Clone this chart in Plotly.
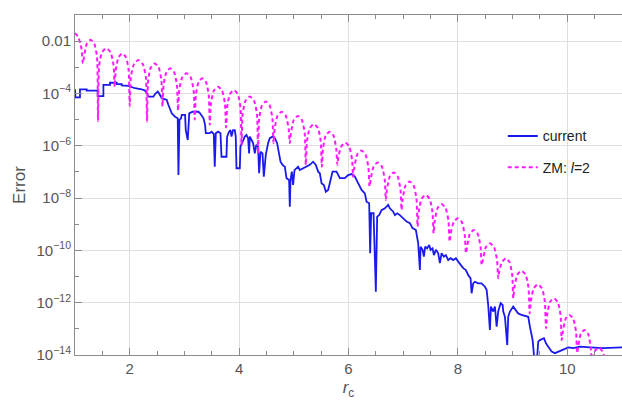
import plotly.graph_objects as go

# ---- data (x = r_c, value = log10(Error)) ----
current_pts = [
    (1.000, -3.84), (1.009, -4.15), (1.091, -4.15), (1.091, -3.84), (1.214, -3.84), (1.214, -3.89),
    (1.415, -3.89), (1.415, -4.10), (1.519, -4.10), (1.519, -3.67), (1.640, -3.67), (1.640, -3.59),
    (1.763, -3.59), (1.763, -3.64), (1.854, -3.64), (1.854, -3.69), (1.977, -3.71), (2.097, -3.80),
    (2.220, -3.84), (2.280, -3.89), (2.311, -3.99), (2.343, -4.12), (2.434, -4.12), (2.463, -4.02),
    (2.513, -3.93), (2.536, -3.99), (2.586, -4.18), (2.677, -4.25), (2.708, -4.44), (2.769, -4.76),
    (2.829, -4.89), (2.878, -4.95), (2.891, -7.12), (2.910, -5.01), (2.939, -4.95), (2.952, -4.82),
    (3.012, -4.82), (3.025, -5.40), (3.061, -5.78), (3.089, -4.76), (3.147, -4.70), (3.257, -4.70),
    (3.286, -4.76), (3.349, -4.95), (3.378, -5.20), (3.391, -5.52), (3.464, -5.52), (3.495, -5.46),
    (3.537, -5.55), (3.555, -6.80), (3.574, -5.52), (3.616, -5.46), (3.660, -5.52), (3.678, -6.42),
    (3.769, -6.42), (3.780, -5.65), (3.817, -5.46), (3.842, -5.40), (3.861, -5.65), (3.890, -5.40),
    (3.921, -5.40), (3.939, -5.65), (3.952, -6.86), (4.013, -6.86), (4.025, -6.03), (4.062, -5.84),
    (4.104, -5.65), (4.135, -5.59), (4.164, -5.71), (4.183, -6.29), (4.195, -5.65), (4.227, -5.78),
    (4.256, -5.90), (4.287, -6.29), (4.314, -5.97), (4.347, -6.03), (4.366, -7.05), (4.391, -6.23),
    (4.428, -6.29), (4.452, -7.18), (4.488, -6.35), (4.530, -5.90), (4.561, -5.71), (4.611, -5.65),
    (4.653, -5.71), (4.695, -5.90), (4.731, -6.29), (4.757, -6.61), (4.794, -6.73), (4.836, -6.80),
    (4.867, -7.24), (4.914, -7.31), (4.927, -8.33), (4.940, -7.31), (4.964, -6.99), (4.987, -7.50),
    (5.013, -6.93), (5.050, -6.86), (5.079, -6.80), (5.110, -6.93), (5.170, -6.86), (5.220, -6.80),
    (5.293, -6.73), (5.353, -6.61), (5.403, -6.73), (5.445, -6.99), (5.476, -7.05), (5.507, -7.43),
    (5.549, -7.50), (5.586, -7.76), (5.628, -7.69), (5.672, -7.31), (5.708, -6.99), (5.781, -6.99),
    (5.811, -7.12), (5.842, -7.24), (5.933, -7.24), (5.993, -7.12), (6.056, -7.08), (6.116, -7.18),
    (6.176, -7.43), (6.239, -7.69), (6.299, -7.82), (6.330, -8.14), (6.378, -8.20), (6.396, -10.11),
    (6.414, -8.58), (6.458, -8.58), (6.500, -11.58), (6.524, -8.71), (6.560, -8.65), (6.604, -8.46),
    (6.665, -8.39), (6.725, -8.26), (6.756, -8.39), (6.787, -8.46), (6.817, -8.52), (6.848, -8.65),
    (6.890, -8.58), (6.939, -8.65), (6.999, -8.77), (7.062, -8.90), (7.122, -8.96), (7.171, -9.15),
    (7.232, -9.22), (7.274, -9.73), (7.305, -10.75), (7.318, -9.86), (7.354, -9.98), (7.378, -10.24),
    (7.402, -9.86), (7.438, -9.92), (7.475, -9.79), (7.501, -9.98), (7.537, -9.92), (7.561, -10.18),
    (7.598, -9.98), (7.640, -10.11), (7.671, -10.49), (7.702, -10.11), (7.744, -10.24), (7.780, -10.18),
    (7.823, -10.37), (7.866, -10.30), (7.914, -10.37), (7.963, -10.30), (8.006, -10.43), (8.049, -10.56),
    (8.097, -10.68), (8.146, -10.75), (8.188, -10.94), (8.232, -11.07), (8.250, -11.64), (8.280, -11.26),
    (8.311, -11.20), (8.371, -11.26), (8.433, -11.26), (8.494, -11.39), (8.525, -11.51), (8.554, -12.09),
    (8.585, -13.04), (8.604, -12.15), (8.646, -12.34), (8.677, -12.15), (8.708, -12.92), (8.737, -12.34),
    (8.781, -12.02), (8.818, -12.09), (8.829, -12.34), (8.860, -12.54), (8.902, -13.62), (8.920, -12.54),
    (8.951, -12.34), (9.011, -12.15), (9.061, -12.28), (9.103, -12.41), (9.165, -12.47), (9.226, -12.51),
    (9.286, -12.54), (9.317, -12.92), (9.366, -13.43), (9.399, -14.19), (9.445, -14.19), (9.469, -13.49),
    (9.500, -13.43), (9.573, -13.36), (9.610, -13.55), (9.652, -13.68), (9.714, -13.87), (9.774, -13.93),
    (9.835, -13.87), (9.926, -13.81), (10.018, -13.71), (10.109, -13.74), (10.232, -13.68), (10.414, -13.71),
    (10.658, -13.74), (11.000, -13.71),
]

zm_pts = [
    (1.000, -1.69), (1.060, -1.85), (1.115, -2.25), (1.146, -2.85),
    (1.165, -2.60), (1.215, -2.10), (1.284, -1.95), (1.352, -2.10), (1.402, -2.60), (1.421, -5.05),
    (1.442, -2.92), (1.497, -2.42), (1.574, -2.27), (1.650, -2.42), (1.705, -2.92), (1.726, -3.75),
    (1.745, -3.12), (1.795, -2.62), (1.863, -2.47), (1.932, -2.62), (1.981, -3.12), (2.000, -4.48),
    (2.022, -3.37), (2.079, -2.87), (2.159, -2.72), (2.238, -2.87), (2.295, -3.37), (2.317, -5.08),
    (2.337, -3.50), (2.388, -3.00), (2.458, -2.85), (2.529, -3.00), (2.579, -3.50), (2.599, -4.50),
    (2.619, -3.69), (2.670, -3.19), (2.742, -3.04), (2.813, -3.19), (2.864, -3.69), (2.884, -4.65),
    (2.905, -3.88), (2.961, -3.38), (3.037, -3.23), (3.114, -3.38), (3.169, -3.88), (3.190, -5.00),
    (3.209, -4.07), (3.259, -3.57), (3.327, -3.42), (3.396, -3.57), (3.445, -4.07), (3.464, -5.20),
    (3.485, -4.39), (3.539, -3.89), (3.613, -3.74), (3.688, -3.89), (3.741, -4.39), (3.762, -5.30),
    (3.782, -4.52), (3.833, -4.02), (3.903, -3.87), (3.974, -4.02), (4.024, -4.52), (4.044, -5.97),
    (4.065, -4.77), (4.120, -4.27), (4.196, -4.12), (4.271, -4.27), (4.326, -4.77), (4.347, -6.29),
    (4.367, -4.96), (4.418, -4.46), (4.488, -4.31), (4.559, -4.46), (4.609, -4.96), (4.629, -5.90),
    (4.650, -5.35), (4.704, -4.85), (4.778, -4.70), (4.853, -4.85), (4.906, -5.35), (4.927, -5.90),
    (4.948, -5.51), (5.000, -5.01), (5.074, -4.86), (5.147, -5.01), (5.199, -5.51), (5.220, -6.73),
    (5.241, -5.82), (5.293, -5.32), (5.367, -5.17), (5.440, -5.32), (5.492, -5.82), (5.513, -6.80),
    (5.533, -6.11), (5.584, -5.61), (5.655, -5.46), (5.725, -5.61), (5.776, -6.11), (5.796, -6.73),
    (5.816, -6.40), (5.868, -6.03), (5.941, -5.88), (6.013, -6.03), (6.065, -6.53), (6.085, -7.18),
    (6.106, -6.83), (6.160, -6.33), (6.235, -6.18), (6.310, -6.33), (6.364, -6.83), (6.385, -7.56),
    (6.406, -7.29), (6.460, -6.79), (6.534, -6.64), (6.609, -6.79), (6.662, -7.29), (6.683, -8.07),
    (6.703, -7.67), (6.755, -7.17), (6.827, -7.02), (6.898, -7.17), (6.950, -7.67), (6.970, -8.45),
    (6.991, -8.02), (7.043, -7.52), (7.117, -7.37), (7.190, -7.52), (7.242, -8.02), (7.263, -9.09),
    (7.284, -8.53), (7.336, -8.03), (7.410, -7.88), (7.483, -8.03), (7.535, -8.53), (7.556, -9.35),
    (7.576, -8.88), (7.629, -8.38), (7.702, -8.23), (7.775, -8.38), (7.828, -8.88), (7.848, -9.67),
    (7.869, -9.35), (7.923, -8.92), (7.998, -8.77), (8.072, -8.92), (8.126, -9.42), (8.147, -10.11),
    (8.167, -9.87), (8.219, -9.37), (8.291, -9.22), (8.362, -9.37), (8.414, -9.87), (8.434, -10.56),
    (8.455, -10.38), (8.510, -9.88), (8.586, -9.73), (8.661, -9.88), (8.716, -10.38), (8.737, -11.07),
    (8.756, -10.80), (8.806, -10.45), (8.875, -10.30), (8.943, -10.45), (8.993, -10.95), (9.012, -11.83),
    (9.033, -11.43), (9.087, -10.93), (9.162, -10.78), (9.237, -10.93), (9.291, -11.43), (9.312, -12.41),
    (9.333, -11.95), (9.387, -11.45), (9.461, -11.30), (9.536, -11.45), (9.589, -11.95), (9.610, -12.98),
    (9.630, -12.48), (9.682, -11.98), (9.754, -11.83), (9.825, -11.98), (9.877, -12.48), (9.897, -13.43),
    (9.917, -13.12), (9.968, -12.62), (10.039, -12.47), (10.109, -12.62), (10.160, -13.12), (10.180, -13.93),
    (10.199, -13.69), (10.247, -13.19), (10.313, -13.04), (10.380, -13.19), (10.427, -13.69), (10.446, -14.30),
    (10.464, -14.10), (10.512, -13.82), (10.578, -13.72), (10.644, -13.87), (10.692, -14.20), (10.710, -14.60),
    (11.000, -16.00),
]

x_ticks = [2, 4, 6, 8, 10]
x_minor = [1.5, 2.5, 3, 3.5, 4.5, 5, 5.5, 6.5, 7, 7.5, 8.5, 9, 9.5, 10.5]
y_tick_exps = [-2, -4, -6, -8, -10, -12, -14]
y_tick_text = ["0.01", "10<sup>\u22124</sup>", "10<sup>\u22126</sup>", "10<sup>\u22128</sup>",
               "10<sup>\u221210</sup>", "10<sup>\u221212</sup>", "10<sup>\u221214</sup>"]
y_minor_exps = [-3, -5, -7, -9, -11, -13]

cur_x = [p[0] for p in current_pts]
cur_y = [10 ** p[1] for p in current_pts]
zm_x = [p[0] for p in zm_pts]
zm_y = [10 ** p[1] for p in zm_pts]

FONT = "Liberation Sans, Arial, sans-serif"
AX = "#8c8c8c"

fig = go.Figure()
fig.add_trace(go.Scatter(x=cur_x, y=cur_y, mode="lines", name="current", legendgroup="a",
                         line=dict(color="#1a1aee", width=1.8)))
fig.add_trace(go.Scatter(x=zm_x, y=zm_y, mode="lines", name="ZM: <i>l</i>=2", legendgroup="b",
                         line=dict(color="#ff1aff", width=2.0, dash="4px,3px",
                                   shape="spline", smoothing=0.6)))

fig.update_layout(
    width=622, height=400,
    margin=dict(l=75, r=0, t=15, b=45),
    paper_bgcolor="white", plot_bgcolor="white",
    font=dict(family=FONT, color="#555555", size=14),
    showlegend=True,
    legend=dict(x=0.782, y=0.69, xanchor="left", yanchor="top",
                bgcolor="rgba(0,0,0,0)", traceorder="grouped", tracegroupgap=10,
                font=dict(size=14, color="#222222", family=FONT)),
)
fig.update_xaxes(
    range=[1, 11], tickmode="array", tickvals=x_ticks, automargin=False,
    ticks="inside", ticklen=7, tickcolor=AX, tickwidth=1,
    showline=True, linecolor=AX, linewidth=1, mirror="ticks",
    showgrid=True, gridcolor="#dedede", gridwidth=1, zeroline=False,
    tickfont=dict(size=15, color="#555555"),
    minor=dict(tickmode="array", tickvals=x_minor, ticks="inside", ticklen=4, tickcolor=AX, showgrid=False),
    title=dict(text="<i>r</i><sub>c</sub>", font=dict(size=17, color="#555555"), standoff=10),
)
fig.update_yaxes(
    type="log", range=[-14, -1], tickmode="array", automargin=False,
    tickvals=[10 ** e for e in y_tick_exps], ticktext=y_tick_text,
    ticks="inside", ticklen=7, tickcolor=AX, tickwidth=1,
    showline=True, linecolor=AX, linewidth=1,
    showgrid=True, gridcolor="#dedede", gridwidth=1, zeroline=False,
    tickfont=dict(size=15, color="#555555"),
    minor=dict(tickmode="array", tickvals=[10 ** e for e in y_minor_exps], ticks="inside",
               ticklen=4, tickcolor=AX, showgrid=False),
    title=dict(text="Error", font=dict(size=17, color="#555555"), standoff=6),
)

fig.write_html("out.html", config={"displayModeBar": False},
               post_script="document.body.style.margin='0px';document.body.style.overflow='hidden';")
